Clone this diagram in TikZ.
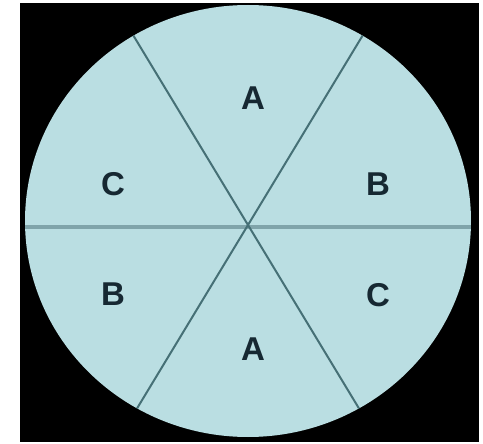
\documentclass[tikz,border=0pt]{standalone}
\usepackage{fontspec}
\setmainfont{Liberation Sans}
\definecolor{dialfill}{RGB}{186,222,226}
\definecolor{divline}{RGB}{70,112,118}
\definecolor{midline}{RGB}{128,164,170}
\definecolor{lettercol}{RGB}{22,40,50}
\begin{document}
\begin{tikzpicture}[
    x=1pt,
    y=-1pt,
    sector/.style={
        font=\fontsize{33}{36}\selectfont\bfseries,
        text=lettercol,
        inner sep=0pt
    },
    spoke/.style={
        draw=divline,
        line width=2pt
    }
]

% Page with white margins and black board
\useasboundingbox[fill=white] (0,0) rectangle (483,444);
\fill[black] (20,3) rectangle (479,442);

% Disc
\fill[dialfill] (248,221) ellipse [x radius=223, y radius=216];

% Dividing lines, clipped to the disc
\coordinate (hub) at (248,225);
\begin{scope}
    \clip (248,221) ellipse [x radius=223, y radius=216];
    \draw[draw=midline, line width=4.5pt] (0,227) -- (483,227);
    \draw[spoke] (hub) -- ++(-121,-200);
    \draw[spoke] (hub) -- ++(121,200);
    \draw[spoke] (hub) -- ++(121,-200);
    \draw[spoke] (hub) -- ++(-121,200);
\end{scope}

% Sector letters
\node[sector] (topA) at (253,98) {A};
\node[sector] (upC) at (113,184) {C};
\node[sector] (upB) at (378,184) {B};
\node[sector] (lowB) at (113,294) {B};
\node[sector] (lowC) at (378,295) {C};
\node[sector] (botA) at (253,349) {A};
\end{tikzpicture}
\end{document}
